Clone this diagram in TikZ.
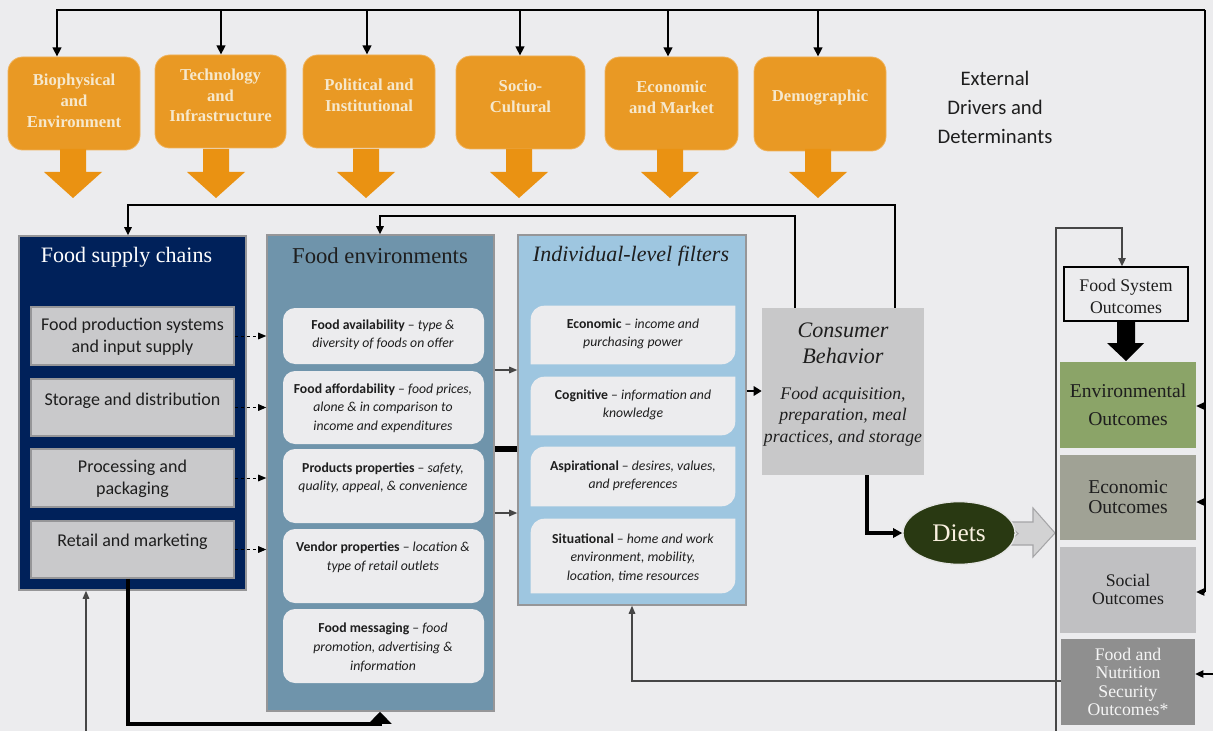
\documentclass[tikz,border=0pt]{standalone}
\usepackage{fontspec}
\setmainfont{Liberation Serif}
\newfontfamily\calfont{Carlito}
\usetikzlibrary{arrows.meta,fit,calc,shapes.geometric}
\definecolor{bg}{RGB}{236,236,238}
\definecolor{orfill}{RGB}{233,153,36}
\definecolor{orline}{RGB}{240,178,90}
\definecolor{orarrow}{RGB}{234,146,18}
\definecolor{ortxt}{RGB}{246,232,204}
\definecolor{navy}{RGB}{0,33,90}
\definecolor{frame}{RGB}{150,150,152}
\definecolor{ingrey}{RGB}{201,201,203}
\definecolor{steel}{RGB}{111,148,171}
\definecolor{sky}{RGB}{158,198,224}
\definecolor{cbgrey}{RGB}{200,200,201}
\definecolor{dietgreen}{RGB}{41,57,18}
\definecolor{envgreen}{RGB}{139,164,104}
\definecolor{econgrey}{RGB}{160,162,149}
\definecolor{socgrey}{RGB}{192,192,194}
\definecolor{fnsgrey}{RGB}{143,143,143}
\definecolor{txt}{RGB}{30,30,30}
\definecolor{conn}{RGB}{70,70,70}
\definecolor{garrow}{RGB}{210,210,211}
\definecolor{garrowline}{RGB}{165,165,167}
\begin{document}
\begin{tikzpicture}[x=0.75pt,y=-0.75pt,
  orbox/.style={fill=orfill, draw=orline, line width=0.6pt, rounded corners=11pt, inner sep=0pt},
  ortext/.style={font=\bfseries\fontsize{12.5}{15.75}\selectfont, text=ortxt, align=center, inner sep=0pt},
  bigbox/.style={draw=frame, line width=1.2pt, inner sep=0pt},
  fsbox/.style={fill=ingrey, draw=frame, line width=1.2pt, inner sep=0pt},
  rbox/.style={fill=bg, rounded corners=9pt, inner sep=0pt},
  plainbox/.style={inner sep=0pt},
  fstext/.style={font=\calfont\fontsize{13.5}{16.5}\selectfont, text=txt, align=center, inner sep=0pt},
  smtext/.style={font=\calfont\fontsize{10.3}{13.9}\selectfont, text=txt, align=center, inner sep=0pt},
  outtext/.style={align=center, inner sep=0pt, text=txt},
  blackarr/.style={-{Triangle[length=7pt,width=6.5pt]}, line width=1.8pt},
  linkarr/.style={-{Triangle[length=6pt,width=5.5pt]}, line width=1pt},
  thinarr/.style={-{Triangle[length=6pt,width=5pt]}, line width=0.8pt, draw=conn},
  dasharr/.style={-{Triangle[length=6pt,width=5pt]}, line width=0.7pt, dash pattern=on 2.5pt off 2pt}
]
\fill[bg] (0,0) rectangle (1213,731);
\useasboundingbox (0,0) rectangle (1213,731);

% ---------- external drivers ----------
\node[orbox, fit={(8,57) (140,150)}] (d1) {};
\node[orbox, fit={(155,55) (286,148)}] (d2) {};
\node[orbox, fit={(303,55) (435,148)}] (d3) {};
\node[orbox, fit={(456,56) (585,149)}] (d4) {};
\node[orbox, fit={(605,57) (738,150)}] (d5) {};
\node[orbox, fit={(754,57) (886,151)}] (d6) {};
\node[ortext] (t1) at (74,100.5) {Biophysical\\and\\Environment};
\node[ortext, font=\bfseries\fontsize{12.5}{15.4}\selectfont] (t2) at (220.5,95.5) {Technology\\and\\Infrastructure};
\node[ortext] (t3) at (369,95) {Political and\\Institutional};
\node[ortext] (t4) at (520.5,96) {Socio-\\Cultural};
\node[ortext] (t5) at (671.5,97) {Economic\\and Market};
\node[ortext] (t6) at (820,98) {Demographic};
\node[font=\calfont\fontsize{15.5}{21.75}\selectfont, text=txt, align=center, inner sep=0pt] (ext) at (995,107) {External\\Drivers and\\Determinants};

\foreach \cx in {73,216,366,519,670,818}
  \fill[orarrow] (\cx-13,149) -- (\cx+13,149) -- (\cx+13,172) -- (\cx+29,172) -- (\cx,198) -- (\cx-29,172) -- (\cx-13,172) -- cycle;

\coordinate (top1) at (57,10);
\coordinate (top2) at (221,10);
\coordinate (top3) at (367,10);
\coordinate (top4) at (520,10);
\coordinate (top5) at (668,10);
\coordinate (top6) at (818,10);
\coordinate (topR) at (1205,10);
\draw[blackarr] (topR) -- (top1) -- (top1 |- d1.north);
\draw[blackarr] (top2) -- (top2 |- d2.north);
\draw[blackarr] (top3) -- (top3 |- d3.north);
\draw[blackarr] (top4) -- (top4 |- d4.north);
\draw[blackarr] (top5) -- (top5 |- d5.north);
\draw[blackarr] (top6) -- (top6 |- d6.north);

% ---------- food supply chains ----------
\node[bigbox, fill=navy, fit={(19,236) (246,590)}] (fsc) {};
\node[inner sep=0pt, text=white, font=\fontsize{16.5}{19}\selectfont] (fsct) at (126.5,257) {Food supply chains};
\node[fsbox, fit={(31,307) (234,365)}] (p1) {};
\node[fsbox, fit={(31,379) (234,436)}] (p2) {};
\node[fsbox, fit={(31,449) (234,507)}] (p3) {};
\node[fsbox, fit={(31,521) (234,578)}] (p4) {};
\node[fstext] (p1t) at (132.5,337) {Food production systems\\and input supply};
\node[fstext] (p2t) at (132.5,401) {Storage and distribution};
\node[fstext] (p3t) at (132.5,478.5) {Processing and\\packaging};
\node[fstext] (p4t) at (132.5,542) {Retail and marketing};

% ---------- food environments ----------
\node[bigbox, fill=steel, fit={(267,235) (494,711)}] (fe) {};
\node[inner sep=0pt, text=txt, font=\fontsize{17}{20}\selectfont] (fet) at (380,256) {Food environments};
\node[rbox, fit={(283,308) (484,364)}] (e1) {};
\node[rbox, fit={(283,371) (484,444)}] (e2) {};
\node[rbox, fit={(283,449) (484,523)}] (e3) {};
\node[rbox, fit={(283,529) (484,603)}] (e4) {};
\node[rbox, fit={(283,609) (484,683)}] (e5) {};
\node[smtext] (e1t) at (383,335) {\textbf{Food availability} – \textit{type \&}\\\textit{diversity of foods on offer}};
\node[smtext] (e2t) at (383,408) {\textbf{Food affordability} – \textit{food prices,}\\\textit{alone \& in comparison to}\\\textit{income and expenditures}};
\node[smtext] (e3t) at (383,478) {\textbf{Products properties} – \textit{safety,}\\\textit{quality, appeal, \& convenience}};
\node[smtext] (e4t) at (383,557.5) {\textbf{Vendor properties} – \textit{location \&}\\\textit{type of retail outlets}};
\node[smtext] (e5t) at (383,647.5) {\textbf{Food messaging} – \textit{food}\\\textit{promotion, advertising \&}\\\textit{information}};

% ---------- individual-level filters ----------
\node[bigbox, fill=sky, fit={(518,235) (746,605)}] (if) {};
\node[inner sep=0pt, text=txt, font=\itshape\fontsize{16.5}{19}\selectfont] (ift) at (631,256) {Individual-level filters};
\node[plainbox, fit={(531,306) (735,364)}] (i1) {};
\node[plainbox, fit={(531,377) (735,435)}] (i2) {};
\node[plainbox, fit={(531,447) (735,506)}] (i3) {};
\node[plainbox, fit={(531,519) (735,593)}] (i4) {};
\foreach \n in {i1,i2,i3,i4}
  \fill[bg] (\n.west) [rounded corners=10pt] -- (\n.north west) -- (\n.north) [sharp corners] -- (\n.north east) -- (\n.east) [rounded corners=10pt] -- (\n.south east) -- (\n.south) [sharp corners] -- (\n.south west) -- cycle;
\node[smtext] (i1t) at (633,334) {\textbf{Economic} – \textit{income and}\\\textit{purchasing power}};
\node[smtext] (i2t) at (633,405) {\textbf{Cognitive} – \textit{information and}\\\textit{knowledge}};
\node[smtext] (i3t) at (633,476) {\textbf{Aspirational} – \textit{desires, values,}\\\textit{and preferences}};
\node[smtext] (i4t) at (633,558) {\textbf{Situational} – \textit{home and work}\\\textit{environment, mobility,}\\\textit{location, time resources}};

% ---------- consumer behaviour ----------
\node[inner sep=0pt, fill=cbgrey, fit={(762,308) (924,475)}] (cb) {};
\node[inner sep=0pt, text=txt, align=center, font=\itshape\fontsize{16.6}{19.5}\selectfont] (cbt) at (843,343.5) {Consumer\\Behavior};
\node[inner sep=0pt, text=txt, align=center, font=\itshape\fontsize{13.3}{16}\selectfont] (cbs) at (843,416.5) {Food acquisition,\\preparation, meal\\practices, and storage};

% ---------- diets ----------
\fill[garrow, draw=garrowline, line width=0.8pt] (1006,522) -- (1033,522) -- (1033,508) -- (1055,533) -- (1033,557) -- (1033,545) -- (1006,545) -- (1018,533.5) -- cycle;
\node[ellipse, fill=dietgreen, draw=white!80!gray, line width=1pt, minimum width=84pt, minimum height=47pt, inner sep=0pt, text=ortxt!60!white, font=\fontsize{19}{22}\selectfont] (diets) at (959,533) {Diets};

% ---------- outcomes ----------
\node[draw=black, line width=1.2pt, fill=bg, inner sep=0pt, fit={(1064,267) (1188,321)}] (fso) {};
\node[outtext, font=\fontsize{13.3}{16.5}\selectfont] (fsot) at (1126,296) {Food System\\Outcomes};
\fill[black] (1117,321) -- (1135,321) -- (1135,343) -- (1144,343) -- (1126,361) -- (1107,343) -- (1117,343) -- cycle;
\node[inner sep=0pt, fill=envgreen, fit={(1060,362) (1196,448)}] (env) {};
\node[inner sep=0pt, fill=econgrey, fit={(1060,455) (1196,540)}] (econ) {};
\node[inner sep=0pt, fill=socgrey, fit={(1060,547) (1196,633)}] (soc) {};
\node[inner sep=0pt, fill=fnsgrey, fit={(1061,639) (1195,725)}] (fns) {};
\node[outtext, font=\fontsize{14.7}{21}\selectfont] (envt) at (1128,405) {Environmental\\Outcomes};
\node[outtext, font=\fontsize{14.7}{15}\selectfont] (econt) at (1128,497) {Economic\\Outcomes};
\node[outtext, font=\fontsize{13.3}{13}\selectfont] (soct) at (1128,589.5) {Social\\Outcomes};
\node[outtext, text=white!92!gray, font=\fontsize{13.3}{13.7}\selectfont] (fnst) at (1128,682) {Food and\\Nutrition\\Security\\Outcomes*};

% ---------- connectors ----------
% external drivers feedback on right
\coordinate (rvE) at (1205,406);
\coordinate (rvC) at (1205,502);
\coordinate (rvS) at (1205,592);
\coordinate (rvF) at (1213,674);
\draw[line width=1.2pt] (topR) -- (rvS);
\draw[linkarr] (rvE) -- (rvE -| env.east);
\draw[linkarr] (rvC) -- (rvC -| econ.east);
\draw[linkarr] (rvS) -- (rvS -| soc.east);
\draw[linkarr] (rvF) -- (rvF -| fns.east);

% consumer behaviour feedback loops
\coordinate (k1) at (895,205);
\coordinate (k2) at (128,205);
\coordinate (k3) at (795,216);
\coordinate (k4) at (380,216);
\draw[linkarr, line width=1.2pt] (cb.north -| k1) -- (k1) -- (k2) -- (k2 |- fsc.north);
\draw[linkarr, line width=1.4pt] (cb.north -| k3) -- (k3) -- (k4) -- (k4 |- fe.north);

% supply chain -> environments
\draw[dasharr] (p1.east) -- (p1.east -| fe.west);
\draw[dasharr] (p2.east) -- (p2.east -| fe.west);
\draw[dasharr] (p3.east) -- (p3.east -| fe.west);
\draw[dasharr] (p4.east) -- (p4.east -| fe.west);

% environments -> filters
\coordinate (f1) at (494,370);
\coordinate (f2) at (494,449);
\coordinate (f3) at (494,513);
\draw[thinarr] (f1 -| fe.east) -- (f1 -| if.west);
\draw[line width=4.5pt] (f2 -| fe.east) -- (f2 -| if.west);
\draw[thinarr] (f3 -| fe.east) -- (f3 -| if.west);

% filters -> consumer behaviour
\coordinate (g1) at (746,391);
\draw[-{Triangle[length=6pt,width=7pt]}, line width=2.2pt] (g1 -| if.east) -- (g1 -| cb.west);

% consumer behaviour -> diets
\coordinate (h1) at (867,533);
\draw[-{Triangle[length=7pt,width=7pt]}, line width=2.6pt] (h1 |- cb.south) -- (h1) -- (diets.west);

% outcomes bracket
\coordinate (rc1) at (1056,731);
\coordinate (rc2) at (1056,228);
\coordinate (rc3) at (1122,228);
\draw[linkarr, draw=conn, line width=1pt] (rc1) -- (rc2) -- (rc3) -- (rc3 |- fso.north);

% FNS -> filters
\coordinate (m1) at (632,681);
\draw[thinarr] (fns.west |- m1) -- (m1) -- (m1 |- if.south);

% bottom left
\coordinate (b1) at (86,731);
\draw[thinarr] (b1) -- (b1 |- fsc.south);
\coordinate (b2) at (128,724);
\coordinate (b3) at (380,724);
\draw[-{Triangle[length=9pt,width=17pt]}, line width=2.4pt] (p4.south -| b2) -- (b2) -- (b3) -- (b3 |- fe.south);
\end{tikzpicture}
\end{document}
